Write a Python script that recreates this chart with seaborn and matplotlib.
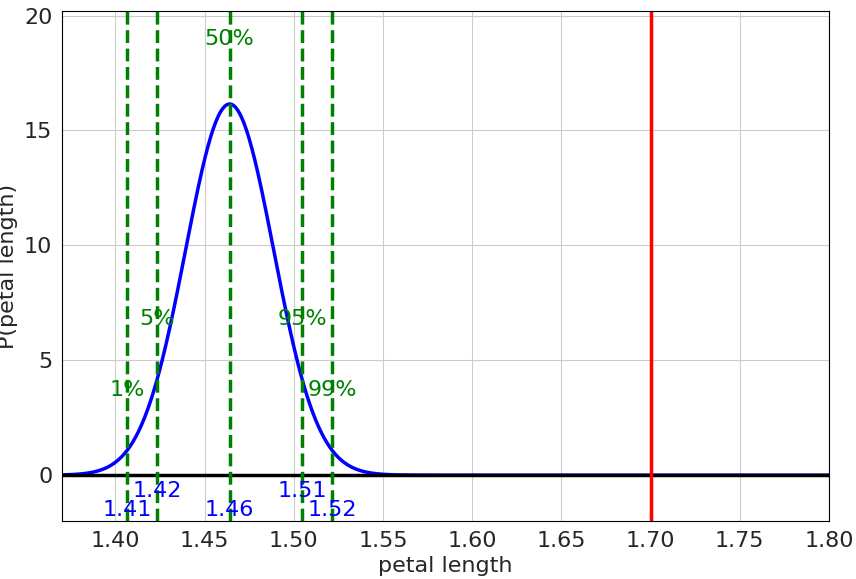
import numpy as np
import matplotlib
matplotlib.use("Agg")
import matplotlib.pyplot as plt
import seaborn as sns

sns.set_style("whitegrid")
plt.rcParams['font.family'] = ['DejaVu Sans']

mean = 1.464
sd = 0.0247
pct_labels = ["1%", "5%", "50%", "95%", "99%"]
pct_values = [1.4065, 1.4234, 1.464, 1.5046, 1.5215]
pct_text = ["1.41", "1.42", "1.46", "1.51", "1.52"]
label_y = [3.7, 6.8, 19.0, 6.8, 3.7]
num_y = [-1.5, -0.7, -1.5, -0.7, -1.5]
observed = 1.70

x = np.linspace(1.37, 1.80, 800)
y = np.exp(-0.5 * ((x - mean) / sd) ** 2) / (sd * np.sqrt(2 * np.pi))

fig = plt.figure(figsize=(8.56, 5.79), dpi=100)
ax = fig.add_axes([0.0724, 0.1, 0.896, 0.881])
sns.lineplot(x=x, y=y, ax=ax, color="blue", lw=2.5)
ax.axhline(0, color="black", lw=2.5)
for v, l, ly, t, ny in zip(pct_values, pct_labels, label_y, pct_text, num_y):
    ax.axvline(v, color="green", ls="--", lw=2.5)
    ax.text(v, ly, l, color="green", fontsize=16, ha="center", va="center")
    ax.text(v, ny, t, color="blue", fontsize=16, ha="center", va="center")
ax.axvline(observed, color="red", lw=2.5)
ax.set_xlim(1.37, 1.80)
ax.set_ylim(-2, 20.2)
ax.set_yticks([0, 5, 10, 15, 20])
ax.set_xticks(np.arange(1.40, 1.801, 0.05))
ax.set_xlabel("petal length", fontsize=16)
ax.set_ylabel("P(petal length)", fontsize=16)
ax.tick_params(labelsize=16)
for s in ax.spines.values():
    s.set_color("black")
fig.savefig("out.png", dpi=100)
